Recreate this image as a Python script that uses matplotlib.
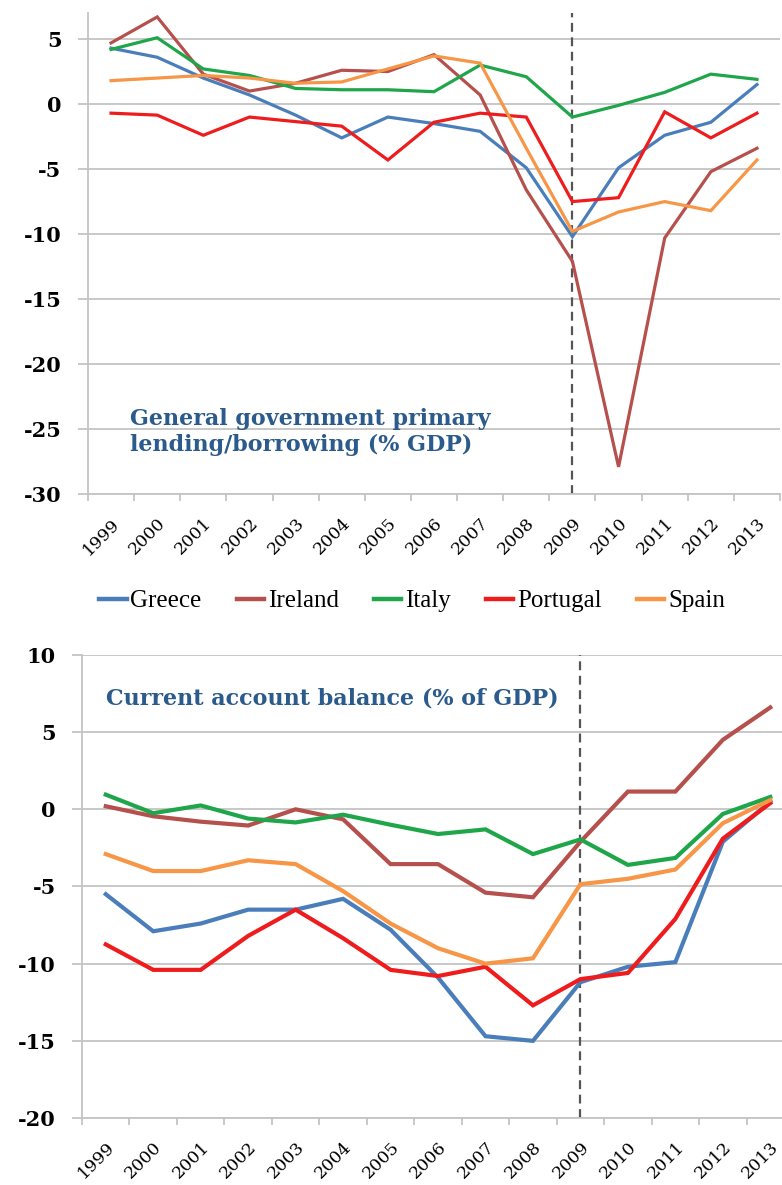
import numpy as np
import matplotlib.pyplot as plt
from matplotlib.lines import Line2D

# data (% of GDP)
years = ['1999', '2000', '2001', '2002', '2003', '2004', '2005', '2006',
         '2007', '2008', '2009', '2010', '2011', '2012', '2013']
countries = ['Greece', 'Ireland', 'Italy', 'Portugal', 'Spain']
colors = ['#4A7EBB', '#B5504D', '#1FA64A', '#EE1C1C', '#F79646']

# general government primary lending/borrowing
greece_bal = [4.3, 3.6, 2.0, 0.7, -0.85, -2.6, -1.0, -1.5, -2.1, -4.9, -10.2, -4.9, -2.4, -1.4, 1.5]
ireland_bal = [4.7, 6.7, 2.3, 1.0, 1.6, 2.6, 2.5, 3.8, 0.7, -6.6, -12.1, -27.9, -10.3, -5.2, -3.4]
italy_bal = [4.2, 5.1, 2.7, 2.2, 1.2, 1.1, 1.1, 0.95, 3.0, 2.1, -1.0, -0.1, 0.9, 2.3, 1.9]
portugal_bal = [-0.7, -0.85, -2.4, -1.0, -1.35, -1.7, -4.3, -1.4, -0.7, -1.0, -7.5, -7.2, -0.6, -2.6, -0.7]
spain_bal = [1.8, 2.0, 2.2, 2.0, 1.6, 1.7, 2.7, 3.7, 3.15, -3.4, -9.8, -8.3, -7.5, -8.2, -4.3]

# current account balance
greece_ca = [-5.5, -7.9, -7.4, -6.5, -6.5, -5.8, -7.8, -10.9, -14.7, -15.0, -11.2, -10.2, -9.9, -2.1, 0.5]
ireland_ca = [0.2, -0.45, -0.8, -1.05, 0.0, -0.65, -3.55, -3.55, -5.4, -5.7, -2.1, 1.15, 1.15, 4.5, 6.6]
italy_ca = [0.95, -0.25, 0.25, -0.6, -0.85, -0.35, -1.0, -1.6, -1.3, -2.9, -1.95, -3.6, -3.15, -0.3, 0.8]
portugal_ca = [-8.75, -10.4, -10.4, -8.2, -6.5, -8.35, -10.4, -10.8, -10.2, -12.7, -11.0, -10.6, -7.1, -1.9, 0.4]
spain_ca = [-2.9, -4.0, -4.0, -3.3, -3.55, -5.3, -7.4, -9.0, -10.0, -9.65, -4.85, -4.5, -3.9, -0.9, 0.6]

top_series = [greece_bal, ireland_bal, italy_bal, portugal_bal, spain_bal]
bot_series = [greece_ca, ireland_ca, italy_ca, portugal_ca, spain_ca]

serif = 'DejaVu Serif'
legend_font = 'Liberation Serif'
title_col = '#2B5A8C'
grid_col = '#C4C4C4'

fig = plt.figure(figsize=(7.82, 11.85), dpi=100)
ax1 = fig.add_axes([0.1125, 0.583, 0.885, 0.406])
ax2 = fig.add_axes([0.1049, 0.0565, 0.9105, 0.3908])

x = np.arange(len(years))


def style_axis(ax, ylim, yticks):
    ax.set_xlim(-0.5, len(years) - 0.5)
    ax.set_ylim(*ylim)
    ax.set_yticks(yticks)
    ax.set_yticklabels([str(t) for t in yticks], fontfamily=serif,
                       fontweight='bold', fontsize=15)
    ax.yaxis.grid(True, color=grid_col, lw=1.3)
    ax.set_axisbelow(True)
    ax.set_xticks(x)
    ax.set_xticklabels(years, rotation=45, ha='right', rotation_mode='anchor',
                       fontfamily=serif, fontsize=12.5)
    ax.set_xticks(np.arange(-0.5, len(years)), minor=True)
    ax.tick_params(axis='x', which='major', length=0, pad=15)
    ax.tick_params(axis='x', which='minor', length=5, color=grid_col, width=1.3)
    ax.tick_params(axis='y', length=7, color=grid_col, width=1.3, pad=12)
    for s in ['top', 'right']:
        ax.spines[s].set_visible(False)
    for s in ['left', 'bottom']:
        ax.spines[s].set_color(grid_col)
        ax.spines[s].set_linewidth(1.3)


for vals, c in zip(top_series, colors):
    ax1.plot(x, vals, color=c, lw=2.3, solid_joinstyle='miter')
for vals, c in zip(bot_series, colors):
    ax2.plot(x, vals, color=c, lw=3.0, solid_joinstyle='miter')

style_axis(ax1, (-30, 7), [5, 0, -5, -10, -15, -20, -25, -30])
style_axis(ax2, (-20, 10), [10, 5, 0, -5, -10, -15, -20])

for ax in (ax1, ax2):
    ax.axvline(10, color='#555555', lw=1.6, ls=(0, (4, 2.5)), zorder=1)

ax1.text(0.061, 0.129, 'General government primary\nlending/borrowing (% GDP)',
         transform=ax1.transAxes, fontfamily=serif, fontweight='bold',
         fontsize=16, color=title_col, va='center', linespacing=1.2)
ax2.text(0.033, 0.905, 'Current account balance (% of GDP)',
         transform=ax2.transAxes, fontfamily=serif, fontweight='bold',
         fontsize=16, color=title_col, va='center')

handles = [Line2D([], [], color=c, lw=3.2) for c in colors]
fig.legend(handles, countries, loc='center',
           bbox_to_anchor=(412 / 782, 1 - 601 / 1185), ncol=5, frameon=False,
           prop={'family': legend_font, 'size': 18}, handlelength=1.1,
           handletextpad=0.15, columnspacing=1.4)

fig.savefig('out.png', dpi=100, facecolor='white')
